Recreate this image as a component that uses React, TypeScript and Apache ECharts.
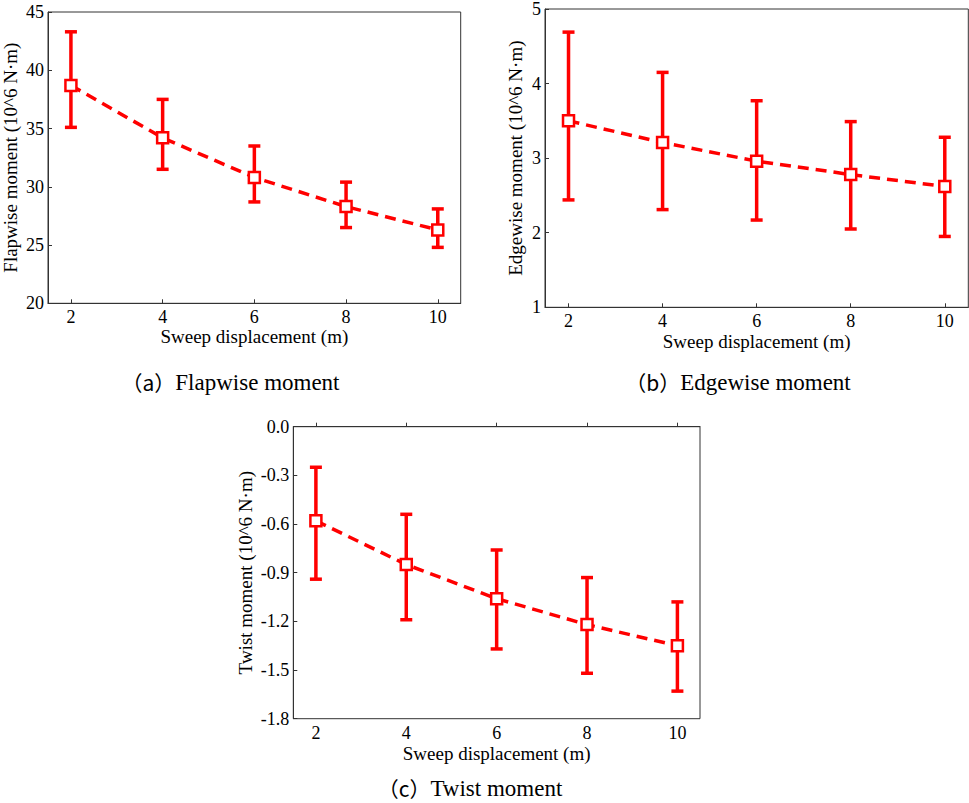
import React, { useEffect, useRef } from "react";
import * as echarts from "echarts";

const xValues = [2, 4, 6, 8, 10];
const xTickValues = [2, 4, 6, 8, 10];

const flapMean = [38.7, 34.2, 30.8, 28.3, 26.3];
const flapUpper = [43.3, 37.5, 33.5, 30.4, 28.1];
const flapLower = [35.1, 31.5, 28.7, 26.5, 24.8];

const edgeMean = [3.5, 3.21, 2.96, 2.78, 2.62];
const edgeUpper = [4.69, 4.15, 3.77, 3.49, 3.28];
const edgeLower = [2.44, 2.31, 2.17, 2.05, 1.95];

const twistMean = [-0.58, -0.85, -1.06, -1.22, -1.35];
const twistUpper = [-0.25, -0.54, -0.76, -0.93, -1.08];
const twistLower = [-0.94, -1.19, -1.37, -1.52, -1.63];

const xAxisName = "Sweep displacement (m)";
const yNames = [
  "Flapwise moment (10^6 N·m)",
  "Edgewise moment (10^6 N·m)",
  "Twist moment (10^6 N·m)",
];
const captions = [
  ["（a）", "Flapwise moment"],
  ["（b）", "Edgewise moment"],
  ["（c）", "Twist moment"],
];

const RED = "#ff0000";
const AXIS = "#333333";
const SERIF = "'Liberation Serif', 'Times New Roman', serif";

export default function App() {
  const ref = useRef<HTMLDivElement>(null);

  useEffect(() => {
    if (!ref.current) return;
    const chart = echarts.init(ref.current, undefined, { renderer: "svg" });

    const grids = [
      { left: 46, top: 12, width: 414.7, height: 291.3 },
      { left: 545, top: 6.7, width: 423.3, height: 300.6 },
      { left: 293.3, top: 426.7, width: 406.7, height: 292 },
    ].map((g) => ({
      ...g,
      show: true,
      borderColor: AXIS,
      borderWidth: 1,
      backgroundColor: "transparent",
    }));

    const xAxes = [0, 1, 2].map((i) => ({
      type: "value",
      gridIndex: i,
      min: 1.5,
      max: 10.5,
      name: xAxisName,
      nameLocation: "middle",
      nameGap: [24, 25, 25][i],
      nameTextStyle: { fontFamily: SERIF, fontSize: 19, color: "#000" },
      axisLine: { show: true, lineStyle: { color: AXIS, width: 1 } },
      axisTick: {
        show: true,
        inside: true,
        length: 4,
        customValues: xTickValues,
        lineStyle: { color: AXIS },
      },
      axisLabel: {
        customValues: xTickValues,
        margin: 5,
        fontFamily: SERIF,
        fontSize: 18,
        color: "#000",
      },
      splitLine: { show: false },
    }));

    const yRanges = [
      { min: 20, max: 45, interval: 5, fmt: (v: number) => String(v) },
      { min: 1, max: 5, interval: 1, fmt: (v: number) => String(v) },
      { min: -1.8, max: 0, interval: 0.3, fmt: (v: number) => v.toFixed(1) },
    ];

    const yAxes = [0, 1, 2].map((i) => ({
      type: "value",
      gridIndex: i,
      min: yRanges[i].min,
      max: yRanges[i].max,
      interval: yRanges[i].interval,
      name: yNames[i],
      nameLocation: "middle",
      nameGap: [28, 20, 38][i],
      nameTextStyle: { fontFamily: SERIF, fontSize: 19, color: "#000" },
      axisLine: { show: true, lineStyle: { color: AXIS, width: 1 } },
      axisTick: { show: true, inside: true, length: 4, lineStyle: { color: AXIS } },
      axisLabel: {
        margin: 4,
        fontFamily: SERIF,
        fontSize: 18,
        color: "#000",
        formatter: yRanges[i].fmt,
        showMaxLabel: true,
        showMinLabel: true,
      },
      splitLine: { show: false },
    }));

    const sets = [
      { mean: flapMean, up: flapUpper, lo: flapLower },
      { mean: edgeMean, up: edgeUpper, lo: edgeLower },
      { mean: twistMean, up: twistUpper, lo: twistLower },
    ];

    const series: any[] = [];
    sets.forEach((s, i) => {
      series.push({
        type: "custom",
        xAxisIndex: i,
        yAxisIndex: i,
        z: 1,
        encode: { x: 0, y: [1, 2] },
        data: xValues.map((x, k) => [x, s.lo[k], s.up[k]]),
        renderItem: (_p: any, api: any) => {
          const x = api.value(0);
          const pLo = api.coord([x, api.value(1)]);
          const pHi = api.coord([x, api.value(2)]);
          const hw = 6;
          const style = { stroke: RED, lineWidth: 3.5, fill: "none" };
          return {
            type: "group",
            children: [
              { type: "line", shape: { x1: pHi[0], y1: pHi[1], x2: pLo[0], y2: pLo[1] }, style },
              { type: "line", shape: { x1: pHi[0] - hw, y1: pHi[1], x2: pHi[0] + hw, y2: pHi[1] }, style },
              { type: "line", shape: { x1: pLo[0] - hw, y1: pLo[1], x2: pLo[0] + hw, y2: pLo[1] }, style },
            ],
          };
        },
      });
      series.push({
        type: "line",
        xAxisIndex: i,
        yAxisIndex: i,
        z: 3,
        data: xValues.map((x, k) => [x, s.mean[k]]),
        symbol: "rect",
        symbolSize: 11,
        showSymbol: true,
        lineStyle: { color: RED, width: 3.5, type: [11, 7] },
        itemStyle: { color: "#ffffff", borderColor: RED, borderWidth: 2.5 },
      });
    });

    const capPos = [
      [230.5, 382],
      [738, 382],
      [470, 788],
    ];

    const graphic = captions.map((c, i) => ({
      type: "text",
      x: capPos[i][0],
      y: capPos[i][1],
      style: {
        text: `{p|${c[0]}}{t|${c[1]}}`,
        align: "center",
        verticalAlign: "middle",
        fill: "#000",
        rich: {
          p: { fontFamily: "'Noto Sans CJK SC'", fontSize: 21, fill: "#000" },
          t: { fontFamily: SERIF, fontSize: 23, fill: "#000" },
        },
      },
    }));

    chart.setOption({
      animation: false,
      backgroundColor: "#ffffff",
      grid: grids,
      xAxis: xAxes,
      yAxis: yAxes,
      series,
      graphic,
    });

    return () => chart.dispose();
  }, []);

  return (
    <div
      ref={ref}
      style={{ position: "fixed", left: 0, top: 0, width: 969, height: 803 }}
    />
  );
}
